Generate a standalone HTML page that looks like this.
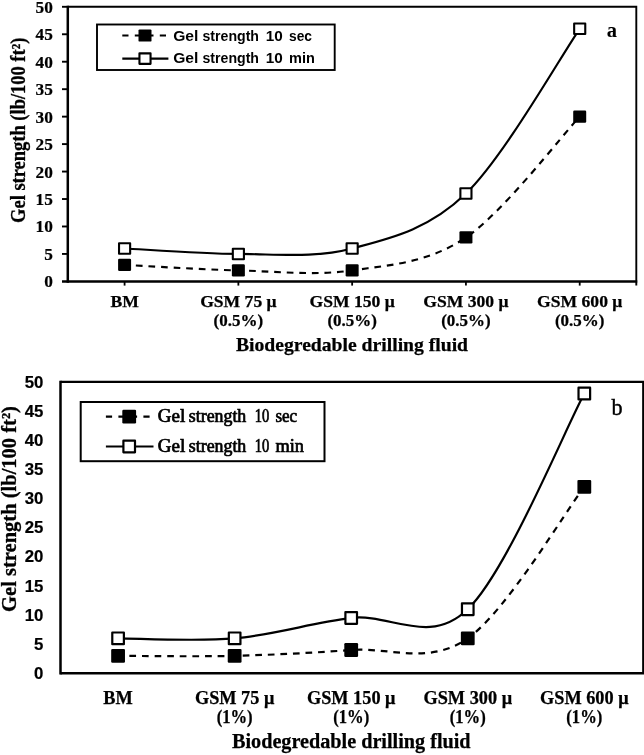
<!DOCTYPE html>
<html><head><meta charset="utf-8"><title>Gel strength</title>
<style>
html,body{margin:0;padding:0;background:#fff;}
svg{display:block;}
text{fill:#000;}
</style></head>
<body>
<svg width="644" height="755" viewBox="0 0 644 755">
<rect width="644" height="755" fill="#fff"/>
<g id="chart-a">
<path d="M124.59,264.92 C143.55,265.84 200.44,269.50 238.37,270.42 C276.30,271.33 314.22,275.91 352.15,270.42 C390.08,264.92 428.00,263.09 465.93,237.46 C503.86,211.83 560.75,136.78 579.71,116.64" fill="none" stroke="#000" stroke-width="2.15" stroke-dasharray="6.7,5.87" stroke-dashoffset="1.07"/>
<path d="M124.59,248.45 C143.55,249.36 200.44,253.94 238.37,253.94 C276.30,253.94 314.22,258.52 352.15,248.45 C390.08,238.38 428.00,230.14 465.93,193.53 C503.86,156.91 560.75,56.23 579.71,28.77" fill="none" stroke="#000" stroke-width="2.15"/>
<rect x="118.09" y="258.82" width="13" height="12.2" rx="1.2" fill="#000"/>
<rect x="231.87" y="264.32" width="13" height="12.2" rx="1.2" fill="#000"/>
<rect x="345.65" y="264.32" width="13" height="12.2" rx="1.2" fill="#000"/>
<rect x="459.43" y="231.36" width="13" height="12.2" rx="1.2" fill="#000"/>
<rect x="573.21" y="110.54" width="13" height="12.2" rx="1.2" fill="#000"/>
<rect x="119.04" y="243.20" width="11.1" height="10.5" fill="#fff" stroke="#000" stroke-width="2.1" stroke-linejoin="round"/>
<rect x="232.82" y="248.69" width="11.1" height="10.5" fill="#fff" stroke="#000" stroke-width="2.1" stroke-linejoin="round"/>
<rect x="346.60" y="243.20" width="11.1" height="10.5" fill="#fff" stroke="#000" stroke-width="2.1" stroke-linejoin="round"/>
<rect x="460.38" y="188.28" width="11.1" height="10.5" fill="#fff" stroke="#000" stroke-width="2.1" stroke-linejoin="round"/>
<rect x="574.16" y="23.52" width="11.1" height="10.5" fill="#fff" stroke="#000" stroke-width="2.1" stroke-linejoin="round"/>
<path d="M67.80,6.80 H636.30 V285.60" fill="none" stroke="#000" stroke-width="1.9" stroke-linejoin="miter"/>
<path d="M67.80,5.85 V282.65" fill="none" stroke="#000" stroke-width="2.5"/>
<path d="M62.00,281.40 H637.25" fill="none" stroke="#000" stroke-width="2.5"/>
<path d="M62.00,253.94 H67.80" stroke="#000" stroke-width="1.9"/>
<path d="M62.00,226.48 H67.80" stroke="#000" stroke-width="1.9"/>
<path d="M62.00,199.02 H67.80" stroke="#000" stroke-width="1.9"/>
<path d="M62.00,171.56 H67.80" stroke="#000" stroke-width="1.9"/>
<path d="M62.00,144.10 H67.80" stroke="#000" stroke-width="1.9"/>
<path d="M62.00,116.64 H67.80" stroke="#000" stroke-width="1.9"/>
<path d="M62.00,89.18 H67.80" stroke="#000" stroke-width="1.9"/>
<path d="M62.00,61.72 H67.80" stroke="#000" stroke-width="1.9"/>
<path d="M62.00,34.26 H67.80" stroke="#000" stroke-width="1.9"/>
<path d="M62.00,6.80 H67.80" stroke="#000" stroke-width="1.9"/>
<path d="M124.59,281.40 V285.60" stroke="#000" stroke-width="1.8"/>
<path d="M238.37,281.40 V285.60" stroke="#000" stroke-width="1.8"/>
<path d="M352.15,281.40 V285.60" stroke="#000" stroke-width="1.8"/>
<path d="M465.93,281.40 V285.60" stroke="#000" stroke-width="1.8"/>
<path d="M579.71,281.40 V285.60" stroke="#000" stroke-width="1.8"/>
<text x="52.80" y="287.40" text-anchor="end" font-family="'Liberation Serif', serif" font-weight="bold" font-size="17.3" stroke="#000" stroke-width="0.2">0</text>
<text x="52.80" y="259.94" text-anchor="end" font-family="'Liberation Serif', serif" font-weight="bold" font-size="17.3" stroke="#000" stroke-width="0.2">5</text>
<text x="52.80" y="232.48" text-anchor="end" font-family="'Liberation Serif', serif" font-weight="bold" font-size="17.3" stroke="#000" stroke-width="0.2">10</text>
<text x="52.80" y="205.02" text-anchor="end" font-family="'Liberation Serif', serif" font-weight="bold" font-size="17.3" stroke="#000" stroke-width="0.2">15</text>
<text x="52.80" y="177.56" text-anchor="end" font-family="'Liberation Serif', serif" font-weight="bold" font-size="17.3" stroke="#000" stroke-width="0.2">20</text>
<text x="52.80" y="150.10" text-anchor="end" font-family="'Liberation Serif', serif" font-weight="bold" font-size="17.3" stroke="#000" stroke-width="0.2">25</text>
<text x="52.80" y="122.64" text-anchor="end" font-family="'Liberation Serif', serif" font-weight="bold" font-size="17.3" stroke="#000" stroke-width="0.2">30</text>
<text x="52.80" y="95.18" text-anchor="end" font-family="'Liberation Serif', serif" font-weight="bold" font-size="17.3" stroke="#000" stroke-width="0.2">35</text>
<text x="52.80" y="67.72" text-anchor="end" font-family="'Liberation Serif', serif" font-weight="bold" font-size="17.3" stroke="#000" stroke-width="0.2">40</text>
<text x="52.80" y="40.26" text-anchor="end" font-family="'Liberation Serif', serif" font-weight="bold" font-size="17.3" stroke="#000" stroke-width="0.2">45</text>
<text x="52.80" y="12.80" text-anchor="end" font-family="'Liberation Serif', serif" font-weight="bold" font-size="17.3" stroke="#000" stroke-width="0.2">50</text>
<text transform="translate(24.80,130.30) rotate(-90)" text-anchor="middle" font-family="'Liberation Serif', serif" font-weight="bold" font-size="20" textLength="185.3" lengthAdjust="spacingAndGlyphs" stroke="#000" stroke-width="0.3">Gel strength (lb/100 ft²)</text>
<text x="124.59" y="307.00" text-anchor="middle" font-family="'Liberation Serif', serif" font-weight="bold" font-size="17.6" stroke="#000" stroke-width="0.25">BM</text>
<text x="238.37" y="307.00" text-anchor="middle" font-family="'Liberation Serif', serif" font-weight="bold" font-size="17.6" stroke="#000" stroke-width="0.25">GSM 75 μ</text>
<text x="238.37" y="326.00" text-anchor="middle" font-family="'Liberation Serif', serif" font-weight="bold" font-size="17.6" textLength="49.5" lengthAdjust="spacingAndGlyphs" stroke="#000" stroke-width="0.25">(0.5%)</text>
<text x="352.15" y="307.00" text-anchor="middle" font-family="'Liberation Serif', serif" font-weight="bold" font-size="17.6" stroke="#000" stroke-width="0.25">GSM 150 μ</text>
<text x="352.15" y="326.00" text-anchor="middle" font-family="'Liberation Serif', serif" font-weight="bold" font-size="17.6" textLength="49.5" lengthAdjust="spacingAndGlyphs" stroke="#000" stroke-width="0.25">(0.5%)</text>
<text x="465.93" y="307.00" text-anchor="middle" font-family="'Liberation Serif', serif" font-weight="bold" font-size="17.6" stroke="#000" stroke-width="0.25">GSM 300 μ</text>
<text x="465.93" y="326.00" text-anchor="middle" font-family="'Liberation Serif', serif" font-weight="bold" font-size="17.6" textLength="49.5" lengthAdjust="spacingAndGlyphs" stroke="#000" stroke-width="0.25">(0.5%)</text>
<text x="579.71" y="307.00" text-anchor="middle" font-family="'Liberation Serif', serif" font-weight="bold" font-size="17.6" stroke="#000" stroke-width="0.25">GSM 600 μ</text>
<text x="579.71" y="326.00" text-anchor="middle" font-family="'Liberation Serif', serif" font-weight="bold" font-size="17.6" textLength="49.5" lengthAdjust="spacingAndGlyphs" stroke="#000" stroke-width="0.25">(0.5%)</text>
<text x="352.00" y="351.00" text-anchor="middle" font-family="'Liberation Serif', serif" font-weight="bold" font-size="19.65" stroke="#000" stroke-width="0.25">Biodegredable drilling fluid</text>
<rect x="97.00" y="24.50" width="237.70" height="45.50" fill="#fff" stroke="#000" stroke-width="1.9"/>
<path d="M122.30,35.50 H167.00" stroke="#000" stroke-width="2.15" stroke-dasharray="6.2,6.3"/>
<path d="M122.30,58.60 H168.40" stroke="#000" stroke-width="2.15"/>
<rect x="138.50" y="29.40" width="13" height="12.2" rx="1.2" fill="#000"/>
<rect x="139.45" y="53.35" width="11.1" height="10.5" fill="#fff" stroke="#000" stroke-width="2.1" stroke-linejoin="round"/>
<text y="41.00" font-family="'Liberation Sans', sans-serif" font-weight="bold" font-size="15"><tspan x="173.20" textLength="25.2" lengthAdjust="spacingAndGlyphs">Gel</tspan> <tspan x="202.50" textLength="56.5" lengthAdjust="spacingAndGlyphs">strength</tspan> <tspan x="265.80" textLength="17.0" lengthAdjust="spacingAndGlyphs">10</tspan> <tspan x="289.00" textLength="23.0" lengthAdjust="spacingAndGlyphs">sec</tspan></text>
<text y="63.30" font-family="'Liberation Sans', sans-serif" font-weight="bold" font-size="15"><tspan x="173.20" textLength="25.2" lengthAdjust="spacingAndGlyphs">Gel</tspan> <tspan x="202.50" textLength="56.5" lengthAdjust="spacingAndGlyphs">strength</tspan> <tspan x="265.80" textLength="17.0" lengthAdjust="spacingAndGlyphs">10</tspan> <tspan x="289.00" textLength="25.8" lengthAdjust="spacingAndGlyphs">min</tspan></text>
<text x="606.70" y="37.00" font-family="'Liberation Serif', serif" font-weight="bold" font-size="20.5">a</text>
</g>
<g id="chart-b">
<path d="M118.08,655.82 C137.51,655.82 195.79,656.79 234.64,655.82 C273.49,654.84 312.35,652.90 351.20,649.99 C390.05,647.07 428.91,665.53 467.76,638.33 C506.61,611.13 564.89,512.06 584.32,486.80" fill="none" stroke="#000" stroke-width="2.2" stroke-dasharray="6.7,5.87" stroke-dashoffset="1.07"/>
<path d="M118.08,638.33 C137.51,638.33 195.79,641.73 234.64,638.33 C273.49,634.93 312.35,622.79 351.20,617.93 C390.05,613.08 428.91,646.59 467.76,609.19 C506.61,571.80 564.89,429.50 584.32,393.56" fill="none" stroke="#000" stroke-width="2.2"/>
<rect x="111.18" y="648.92" width="13.8" height="13.8" rx="1.2" fill="#000"/>
<rect x="227.74" y="648.92" width="13.8" height="13.8" rx="1.2" fill="#000"/>
<rect x="344.30" y="643.09" width="13.8" height="13.8" rx="1.2" fill="#000"/>
<rect x="460.86" y="631.43" width="13.8" height="13.8" rx="1.2" fill="#000"/>
<rect x="577.42" y="479.90" width="13.8" height="13.8" rx="1.2" fill="#000"/>
<rect x="112.28" y="632.48" width="11.6" height="11.7" fill="#fff" stroke="#000" stroke-width="2.2" stroke-linejoin="round"/>
<rect x="228.84" y="632.48" width="11.6" height="11.7" fill="#fff" stroke="#000" stroke-width="2.2" stroke-linejoin="round"/>
<rect x="345.40" y="612.08" width="11.6" height="11.7" fill="#fff" stroke="#000" stroke-width="2.2" stroke-linejoin="round"/>
<rect x="461.96" y="603.34" width="11.6" height="11.7" fill="#fff" stroke="#000" stroke-width="2.2" stroke-linejoin="round"/>
<rect x="578.52" y="387.71" width="11.6" height="11.7" fill="#fff" stroke="#000" stroke-width="2.2" stroke-linejoin="round"/>
<path d="M60.50,381.90 H643.20 V673.30" fill="none" stroke="#000" stroke-width="2.1" stroke-linejoin="miter"/>
<path d="M60.50,380.85 V674.55" fill="none" stroke="#000" stroke-width="2.5"/>
<path d="M60.50,673.30 H644.25" fill="none" stroke="#000" stroke-width="2.5"/>
<text x="43.40" y="679.05" text-anchor="end" font-family="'Liberation Sans', sans-serif" font-weight="bold" font-size="16.8" stroke="#000" stroke-width="0.2">0</text>
<text x="43.40" y="649.91" text-anchor="end" font-family="'Liberation Sans', sans-serif" font-weight="bold" font-size="16.8" stroke="#000" stroke-width="0.2">5</text>
<text x="43.40" y="620.77" text-anchor="end" font-family="'Liberation Sans', sans-serif" font-weight="bold" font-size="16.8" stroke="#000" stroke-width="0.2">10</text>
<text x="43.40" y="591.63" text-anchor="end" font-family="'Liberation Sans', sans-serif" font-weight="bold" font-size="16.8" stroke="#000" stroke-width="0.2">15</text>
<text x="43.40" y="562.49" text-anchor="end" font-family="'Liberation Sans', sans-serif" font-weight="bold" font-size="16.8" stroke="#000" stroke-width="0.2">20</text>
<text x="43.40" y="533.35" text-anchor="end" font-family="'Liberation Sans', sans-serif" font-weight="bold" font-size="16.8" stroke="#000" stroke-width="0.2">25</text>
<text x="43.40" y="504.21" text-anchor="end" font-family="'Liberation Sans', sans-serif" font-weight="bold" font-size="16.8" stroke="#000" stroke-width="0.2">30</text>
<text x="43.40" y="475.07" text-anchor="end" font-family="'Liberation Sans', sans-serif" font-weight="bold" font-size="16.8" stroke="#000" stroke-width="0.2">35</text>
<text x="43.40" y="445.93" text-anchor="end" font-family="'Liberation Sans', sans-serif" font-weight="bold" font-size="16.8" stroke="#000" stroke-width="0.2">40</text>
<text x="43.40" y="416.79" text-anchor="end" font-family="'Liberation Sans', sans-serif" font-weight="bold" font-size="16.8" stroke="#000" stroke-width="0.2">45</text>
<text x="43.40" y="387.65" text-anchor="end" font-family="'Liberation Sans', sans-serif" font-weight="bold" font-size="16.8" stroke="#000" stroke-width="0.2">50</text>
<text transform="translate(16.30,509.00) rotate(-90)" text-anchor="middle" font-family="'Liberation Serif', serif" font-weight="bold" font-size="21.3" textLength="205.8" lengthAdjust="spacingAndGlyphs" stroke="#000" stroke-width="0.3">Gel strength (lb/100 ft²)</text>
<text x="118.08" y="703.90" text-anchor="middle" font-family="'Liberation Serif', serif" font-weight="bold" font-size="18.3" stroke="#000" stroke-width="0.25">BM</text>
<text x="234.64" y="703.90" text-anchor="middle" font-family="'Liberation Serif', serif" font-weight="bold" font-size="18.3" stroke="#000" stroke-width="0.25">GSM 75 μ</text>
<text x="234.64" y="723.20" text-anchor="middle" font-family="'Liberation Serif', serif" font-weight="bold" font-size="18.3" textLength="36" lengthAdjust="spacingAndGlyphs" stroke="#000" stroke-width="0.25">(1%)</text>
<text x="351.20" y="703.90" text-anchor="middle" font-family="'Liberation Serif', serif" font-weight="bold" font-size="18.3" stroke="#000" stroke-width="0.25">GSM 150 μ</text>
<text x="351.20" y="723.20" text-anchor="middle" font-family="'Liberation Serif', serif" font-weight="bold" font-size="18.3" textLength="36" lengthAdjust="spacingAndGlyphs" stroke="#000" stroke-width="0.25">(1%)</text>
<text x="467.76" y="703.90" text-anchor="middle" font-family="'Liberation Serif', serif" font-weight="bold" font-size="18.3" stroke="#000" stroke-width="0.25">GSM 300 μ</text>
<text x="467.76" y="723.20" text-anchor="middle" font-family="'Liberation Serif', serif" font-weight="bold" font-size="18.3" textLength="36" lengthAdjust="spacingAndGlyphs" stroke="#000" stroke-width="0.25">(1%)</text>
<text x="584.32" y="703.90" text-anchor="middle" font-family="'Liberation Serif', serif" font-weight="bold" font-size="18.3" stroke="#000" stroke-width="0.25">GSM 600 μ</text>
<text x="584.32" y="723.20" text-anchor="middle" font-family="'Liberation Serif', serif" font-weight="bold" font-size="18.3" textLength="36" lengthAdjust="spacingAndGlyphs" stroke="#000" stroke-width="0.25">(1%)</text>
<text x="351.30" y="748.20" text-anchor="middle" font-family="'Liberation Serif', serif" font-weight="bold" font-size="20.2" stroke="#000" stroke-width="0.25">Biodegredable drilling fluid</text>
<rect x="80.70" y="402.00" width="243.80" height="59.20" fill="#fff" stroke="#000" stroke-width="2"/>
<path d="M105.90,416.60 H152.00" stroke="#000" stroke-width="2.2" stroke-dasharray="6.2,6.3"/>
<path d="M105.90,446.50 H153.50" stroke="#000" stroke-width="2.2"/>
<rect x="122.30" y="409.70" width="13.8" height="13.8" rx="1.2" fill="#000"/>
<rect x="123.40" y="440.65" width="11.6" height="11.7" fill="#fff" stroke="#000" stroke-width="2.2" stroke-linejoin="round"/>
<text y="422.20" font-family="'Liberation Serif', serif" font-weight="normal" font-size="18" stroke="#000" stroke-width="0.7"><tspan x="157.80" textLength="27.5" lengthAdjust="spacingAndGlyphs">Gel</tspan> <tspan x="188.80" textLength="57.5" lengthAdjust="spacingAndGlyphs">strength</tspan> <tspan x="254.80" textLength="14.5" lengthAdjust="spacingAndGlyphs">10</tspan> <tspan x="275.40" textLength="21.8" lengthAdjust="spacingAndGlyphs">sec</tspan></text>
<text y="452.00" font-family="'Liberation Serif', serif" font-weight="normal" font-size="18" stroke="#000" stroke-width="0.7"><tspan x="157.80" textLength="27.5" lengthAdjust="spacingAndGlyphs">Gel</tspan> <tspan x="188.80" textLength="57.5" lengthAdjust="spacingAndGlyphs">strength</tspan> <tspan x="254.80" textLength="14.5" lengthAdjust="spacingAndGlyphs">10</tspan> <tspan x="275.40" textLength="28.5" lengthAdjust="spacingAndGlyphs">min</tspan></text>
<text x="611.40" y="414.60" font-family="'Liberation Serif', serif" font-weight="normal" font-size="22.2" stroke="#000" stroke-width="0.4">b</text>
</g>
</svg>
</body></html>
